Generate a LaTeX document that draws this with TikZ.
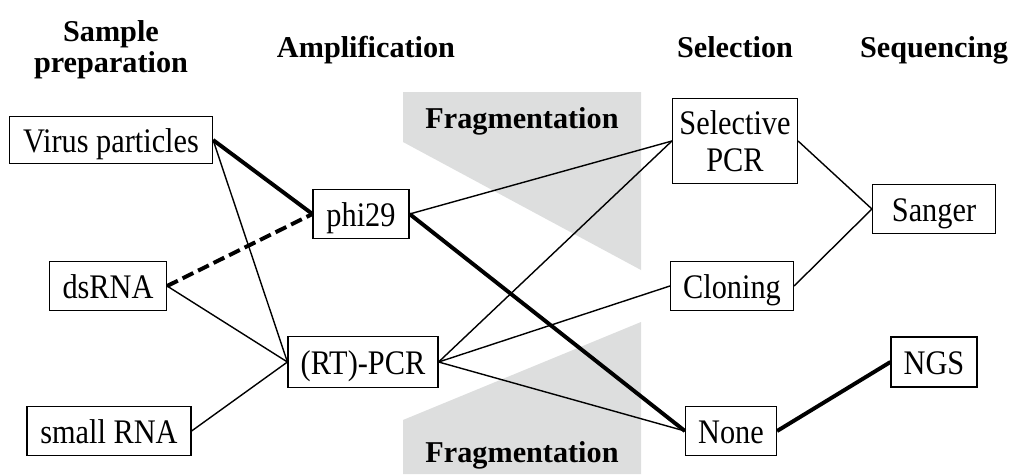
\documentclass[tikz,border=0pt]{standalone}
\usepackage{fontspec}
\setmainfont{Liberation Serif}
\newfontfamily\boxfont[FakeStretch=0.88]{Liberation Serif}
\usetikzlibrary{positioning}
\definecolor{fragGray}{RGB}{221,222,222}

\begin{document}
\begin{tikzpicture}[x=0.025cm, y=-0.025cm,
    box/.style={draw=black, line width=0.8pt, rectangle, inner sep=0pt, minimum height=1.225cm, font=\boxfont\fontsize{24.5}{26}\selectfont, align=center},
    single/.style={box, text height=26pt, text depth=8pt},
    header/.style={font=\fontsize{21.5}{21.5}\selectfont\bfseries, align=center, anchor=base},
    thinlink/.style={line width=1pt},
    thicklink/.style={line width=2.8pt},
    dashlink/.style={line width=2.8pt, dash pattern=on 8.5pt off 3.8pt}]
\useasboundingbox (0,0) rectangle (1011,474);

% fragmentation backgrounds
\fill[fragGray] (403,92) -- (641,92) -- (641,270) -- (403,142) -- cycle;
\fill[fragGray] (403,420) -- (641,322) -- (641,474) -- (403,474) -- cycle;
\node[header] (fragTop) at (522,128) {Fragmentation};
\node[header] (fragBottom) at (522,462) {Fragmentation};

% column headers
\node[header] (hSample) at (111,72) {Sample\\preparation};
\node[header] (hAmp) at (366,57) {Amplification};
\node[header] (hSel) at (735,57) {Selection};
\node[header] (hSeq) at (934,57) {Sequencing};

% sample preparation
\node[single, minimum width=5.075cm, minimum height=1.175cm] (virus) at (111,140) {Virus particles};
\node[single, minimum width=2.925cm] (dsrna) at (108,286) {dsRNA};
\node[single, minimum width=4.1cm] (smallrna) at (109,431) {small RNA};

% amplification
\node[single, minimum width=2.4cm] (phi) at (361,214) {phi29};
\node[single, minimum width=3.75cm, minimum height=1.275cm] (rtpcr) at (363,362) {(RT)-PCR};

% selection
\node[box, minimum width=3.125cm, minimum height=2.125cm] (selpcr) at (735,141) {Selective\\PCR};
\node[single, minimum width=3.075cm] (cloning) at (732,286) {Cloning};
\node[single, minimum width=2.275cm] (none) at (731,431) {None};

% sequencing
\node[single, minimum width=3.075cm] (sanger) at (934,209) {Sanger};
\node[single, minimum width=2.15cm, minimum height=1.25cm] (ngs) at (934,362) {NGS};

% links
\draw[thicklink] (virus.east) -- (phi.west);
\draw[thinlink] (virus.east) -- (rtpcr.west);
\draw[dashlink] (dsrna.east) -- (phi.west);
\draw[thinlink] (dsrna.east) -- (rtpcr.west);
\draw[thinlink] (smallrna.east) -- (rtpcr.west);

\draw[thinlink] (phi.east) -- (selpcr.west);
\draw[thicklink] (phi.east) -- (none.west);
\draw[thinlink] (rtpcr.east) -- (selpcr.west);
\draw[thinlink] (rtpcr.east) -- (cloning.west);
\draw[thinlink] (rtpcr.east) -- (none.west);

\draw[thinlink] (selpcr.east) -- (sanger.west);
\draw[thinlink] (cloning.east) -- (sanger.west);
\draw[thicklink] (none.east) -- (ngs.west);

\end{tikzpicture}
\end{document}
